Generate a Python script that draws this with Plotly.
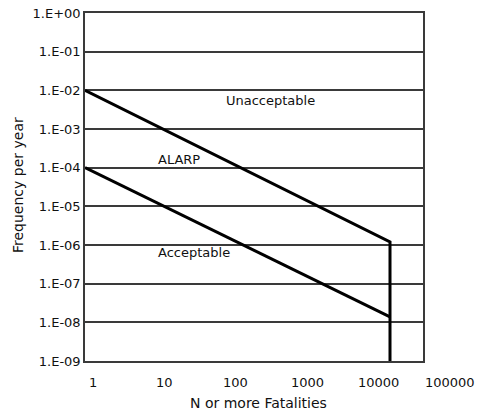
import numpy as np
import plotly.graph_objects as go

# F-N criterion lines (N or more fatalities, frequency per year)
upper_n = [1, 18700, 18700]
upper_f = [1e-2, 1.2e-6, 1e-9]
lower_n = [1, 18700]
lower_f = [1e-4, 1.38e-8]

y_tickvals = [1e0, 1e-1, 1e-2, 1e-3, 1e-4, 1e-5, 1e-6, 1e-7, 1e-8, 1e-9]
y_ticktext = ["1.E+00", "1.E-01", "1.E-02", "1.E-03", "1.E-04", "1.E-05",
              "1.E-06", "1.E-07", "1.E-08", "1.E-09"]
x_tickvals = [1, 10, 100, 1000, 10000, 100000]
x_ticktext = ["1", "10", "100", "1000", "10000", "100000"]

region_labels = ["Unacceptable", "ALARP", "Acceptable"]
region_n = [400, 21, 34]
region_f = [5.6e-3, 1.6e-4, 6.3e-7]

FONT = "DejaVu Sans"
TXT = "#111111"
GRID = "#3a3a3a"

x_lo, x_hi = 0.0, 4.734  # log10 range of the N axis

fig = go.Figure()
fig.add_trace(go.Scatter(x=upper_n, y=upper_f, mode="lines",
                         line=dict(color="black", width=3), showlegend=False,
                         hoverinfo="skip"))
fig.add_trace(go.Scatter(x=lower_n, y=lower_f, mode="lines",
                         line=dict(color="black", width=3), showlegend=False,
                         hoverinfo="skip"))

annotations = []
for t, xn, yf in zip(region_labels, region_n, region_f):
    annotations.append(dict(x=np.log10(xn), y=np.log10(yf), xref="x", yref="y",
                            text=t, showarrow=False, xanchor="center",
                            yanchor="middle",
                            font=dict(family=FONT, size=13, color=TXT)))
for v, t in zip(x_tickvals, x_ticktext):
    annotations.append(dict(x=(np.log10(v) - x_lo) / (x_hi - x_lo), y=0,
                            xref="paper", yref="paper",
                            text=t, showarrow=False, xshift=8, yshift=-21,
                            xanchor="center", yanchor="middle",
                            font=dict(family=FONT, size=13, color=TXT)))
annotations.append(dict(x=0.5, y=0, xref="paper", yref="paper",
                        text="N or more Fatalities", showarrow=False,
                        xshift=4, yshift=-42, xanchor="center", yanchor="middle",
                        font=dict(family=FONT, size=14, color=TXT)))
annotations.append(dict(x=0, y=0.5, xref="paper", yref="paper",
                        text="Frequency per year", showarrow=False,
                        textangle=-90, xshift=-67, yshift=2, xanchor="center",
                        yanchor="middle",
                        font=dict(family=FONT, size=14, color=TXT)))

fig.update_layout(
    width=479, height=414,
    margin=dict(l=85, r=56, t=13, b=53, autoexpand=False),
    paper_bgcolor="white", plot_bgcolor="white",
    font=dict(family=FONT, size=13, color=TXT),
    annotations=annotations,
    xaxis=dict(type="log", range=[x_lo, x_hi], showgrid=False,
               showticklabels=False, ticks="", zeroline=False,
               automargin=False,
               showline=True, mirror=True, linecolor=GRID, linewidth=1.5),
    yaxis=dict(type="log", range=[-9, 0], tickvals=y_tickvals,
               ticktext=y_ticktext, ticks="", showgrid=True,
               gridcolor=GRID, gridwidth=1.5, zeroline=False,
               automargin=False,
               showline=True, mirror=True, linecolor=GRID, linewidth=1.5,
               tickfont=dict(family=FONT, size=13, color=TXT)),
)

fig.write_html("out.html",
               config={"displayModeBar": False},
               post_script="document.body.style.margin='0';"
                           "document.body.style.overflow='hidden';")
